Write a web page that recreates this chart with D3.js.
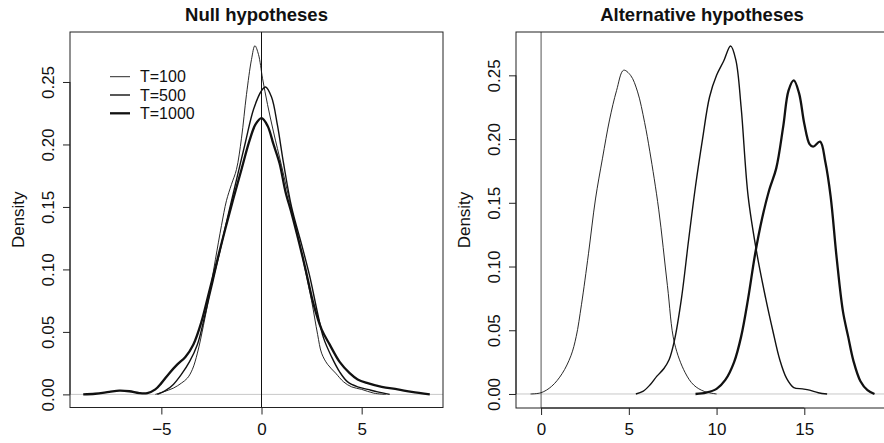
<!DOCTYPE html>
<html>
<head>
<meta charset="utf-8">
<script src="https://cdn.jsdelivr.net/npm/d3@7"></script>
<style>
  html, body { margin: 0; padding: 0; background: #fff; }
  svg text { font-family: "Liberation Sans", Arial, Helvetica, sans-serif; fill: #111; }
</style>
</head>
<body>
<svg id="chart" width="884" height="443"></svg>
<script>
// ---------- data (x, density) ----------
const nullT100 = [[-5.3,0],[-4.9,0.002],[-4.4,0.005],[-4.0,0.009],[-3.7,0.013],[-3.45,0.02],[-3.2,0.033],[-2.9,0.055],[-2.6,0.08],[-2.3,0.108],[-2.0,0.135],[-1.75,0.155],[-1.5,0.168],[-1.25,0.18],[-1.0,0.205],[-0.75,0.24],[-0.5,0.268],[-0.33,0.279],[-0.15,0.272],[0.05,0.253],[0.3,0.232],[0.6,0.21],[1.0,0.183],[1.4,0.155],[1.8,0.128],[2.2,0.098],[2.5,0.075],[2.8,0.048],[3.0,0.033],[3.3,0.024],[3.7,0.017],[4.1,0.01],[4.5,0.006],[5.0,0.004],[5.6,0.001],[6.2,0]];
const nullT500 = [[-5.2,0],[-4.8,0.003],[-4.4,0.008],[-4.0,0.016],[-3.6,0.026],[-3.2,0.04],[-2.8,0.065],[-2.4,0.092],[-2.0,0.12],[-1.6,0.148],[-1.2,0.175],[-0.8,0.202],[-0.4,0.228],[0,0.243],[0.2,0.246],[0.5,0.238],[0.8,0.215],[1.1,0.185],[1.5,0.15],[2.0,0.12],[2.4,0.095],[2.8,0.065],[3.1,0.045],[3.5,0.03],[3.9,0.018],[4.3,0.01],[4.8,0.006],[5.3,0.004],[5.8,0.002],[6.4,0]];
const nullT1000 = [[-8.9,0],[-8.3,0.0005],[-7.6,0.002],[-7.1,0.003],[-6.6,0.0025],[-6.1,0.001],[-5.7,0.001],[-5.3,0.004],[-5.0,0.009],[-4.6,0.017],[-4.2,0.024],[-3.8,0.03],[-3.4,0.04],[-3.0,0.058],[-2.6,0.083],[-2.2,0.108],[-1.8,0.133],[-1.4,0.157],[-1.0,0.18],[-0.6,0.203],[-0.3,0.216],[0,0.221],[0.3,0.215],[0.6,0.2],[0.9,0.185],[1.2,0.162],[1.5,0.145],[1.9,0.12],[2.2,0.1],[2.6,0.072],[3.0,0.052],[3.4,0.04],[3.9,0.026],[4.4,0.017],[4.8,0.012],[5.3,0.009],[6.0,0.006],[6.8,0.004],[7.5,0.002],[8.4,0]];

const altT100 = [[-0.6,0],[0,0.001],[0.6,0.006],[1.2,0.016],[1.7,0.03],[2.0,0.045],[2.3,0.07],[2.7,0.11],[3.1,0.153],[3.5,0.185],[3.9,0.215],[4.3,0.238],[4.7,0.254],[5.1,0.25],[5.5,0.237],[5.9,0.213],[6.2,0.19],[6.7,0.145],[7.2,0.085],[7.6,0.04],[8.2,0.017],[8.7,0.007],[9.3,0.002],[10.0,0]];
const altT500 = [[5.4,0],[5.8,0.002],[6.2,0.007],[6.6,0.014],[7.0,0.02],[7.3,0.027],[7.6,0.042],[8.0,0.075],[8.4,0.12],[8.8,0.163],[9.2,0.2],[9.6,0.233],[10.0,0.25],[10.4,0.261],[10.8,0.273],[11.1,0.262],[11.4,0.225],[11.8,0.155],[12.3,0.11],[12.8,0.075],[13.2,0.05],[13.6,0.027],[14.0,0.012],[14.4,0.005],[14.9,0.004],[15.3,0.003],[15.8,0.001],[16.3,0]];
const altT1000 = [[8.8,0],[9.4,0.001],[10.0,0.004],[10.5,0.011],[11.0,0.025],[11.4,0.045],[11.8,0.075],[12.2,0.11],[12.6,0.138],[13.0,0.16],[13.4,0.177],[13.8,0.21],[14.1,0.238],[14.4,0.246],[14.7,0.236],[15.0,0.212],[15.3,0.196],[15.5,0.194],[15.9,0.198],[16.2,0.182],[16.5,0.155],[16.85,0.106],[17.2,0.065],[17.5,0.045],[17.8,0.026],[18.2,0.01],[18.6,0.003],[19.0,0]];

const seriesLabels = ["T=100", "T=500", "T=1000"];
const nullXTicks = [-5, 0, 5];
const altXTicks = [0, 5, 10, 15];
const yTicks = [0, 0.05, 0.10, 0.15, 0.20, 0.25];
const titles = ["Null hypotheses", "Alternative hypotheses"];
const yLabel = "Density";

// ---------- drawing ----------
const svg = d3.select("#chart");
const widths = [0.9, 1.4, 2.3];

const panels = [
  { title: titles[0], series: [nullT100, nullT500, nullT1000], xTicks: nullXTicks,
    x: d3.scaleLinear().domain([-9.56, 9.06]).range([70, 443]),
    y: d3.scaleLinear().domain([-0.0105, 0.29]).range([407.5, 32]),
    vcol: "#111", legend: true },
  { title: titles[1], series: [altT100, altT500, altT1000], xTicks: altXTicks,
    x: d3.scaleLinear().domain([-1.43, 19.77]).range([516, 888]),
    y: d3.scaleLinear().domain([-0.011, 0.284]).range([408, 32]),
    vcol: "#555", legend: false }
];

panels.forEach(p => {
  const g = svg.append("g");
  const [x0, x1] = p.x.range();
  const [y0, y1] = p.y.range();

  // zero line (gray) and vertical line at 0
  g.append("line").attr("x1", x0).attr("x2", x1)
    .attr("y1", p.y(0)).attr("y2", p.y(0))
    .attr("stroke", "#c8c8c8").attr("stroke-width", 1);
  g.append("line").attr("x1", p.x(0)).attr("x2", p.x(0))
    .attr("y1", y1).attr("y2", y0)
    .attr("stroke", p.vcol).attr("stroke-width", 1);

  // curves
  const line = d3.line().x(d => p.x(d[0])).y(d => Math.min(p.y(0), p.y(d[1])))
    .curve(d3.curveCatmullRom.alpha(0.5));
  p.series.forEach((s, i) => {
    g.append("path").datum(s).attr("d", line)
      .attr("fill", "none").attr("stroke", "#111")
      .attr("stroke-width", widths[i]).attr("stroke-linejoin", "round");
  });

  // box
  g.append("rect").attr("x", x0).attr("y", y1)
    .attr("width", x1 - x0).attr("height", y0 - y1)
    .attr("fill", "none").attr("stroke", "#222").attr("stroke-width", 1);

  // x axis
  const xa = g.append("g").attr("transform", `translate(0,${y0})`)
    .call(d3.axisBottom(p.x).tickValues(p.xTicks).tickSize(7).tickPadding(8)
      .tickFormat(d => d < 0 ? "\u2212" + Math.abs(d) : String(d)));
  xa.select(".domain").attr("d", `M${p.x(p.xTicks[0])},0H${p.x(p.xTicks[p.xTicks.length-1])}`).attr("stroke", "#222");
  xa.selectAll(".tick line").attr("stroke", "#222");
  xa.selectAll(".tick text").attr("font-size", 17).attr("fill", "#111")
    .attr("font-family", "Liberation Sans, Arial, sans-serif");

  // y axis
  const ya = g.append("g").attr("transform", `translate(${x0},0)`)
    .call(d3.axisLeft(p.y).tickValues(yTicks).tickSize(7).tickFormat(d3.format(".2f")));
  ya.select(".domain").attr("d", `M0,${p.y(yTicks[0])}V${p.y(yTicks[yTicks.length-1])}`).attr("stroke", "#222");
  ya.selectAll(".tick line").attr("stroke", "#222");
  ya.selectAll(".tick text")
    .attr("font-size", 17).attr("fill", "#111")
    .attr("font-family", "Liberation Sans, Arial, sans-serif")
    .attr("x", null).attr("dy", null)
    .attr("text-anchor", "middle")
    .attr("transform", "translate(-16.5,0) rotate(-90)");

  // y label
  g.append("text").attr("text-anchor", "middle").attr("font-size", 17)
    .attr("transform", `translate(${x0 - 46.5},${(y0 + y1) / 2}) rotate(-90)`)
    .text(yLabel);

  // title
  g.append("text").attr("text-anchor", "middle").attr("font-size", 18.5)
    .attr("font-weight", "bold")
    .attr("x", (x0 + x1) / 2).attr("y", 20.7)
    .text(p.title);

  // legend
  if (p.legend) {
    const rows = [76.7, 95, 113.3];
    seriesLabels.forEach((lab, i) => {
      g.append("line").attr("x1", 110).attr("x2", 130)
        .attr("y1", rows[i]).attr("y2", rows[i])
        .attr("stroke", "#111").attr("stroke-width", widths[i]);
      g.append("text").attr("x", 140).attr("y", rows[i]).attr("dy", "0.36em")
        .attr("font-size", 16).text(lab);
    });
  }
});
</script>
</body>
</html>
